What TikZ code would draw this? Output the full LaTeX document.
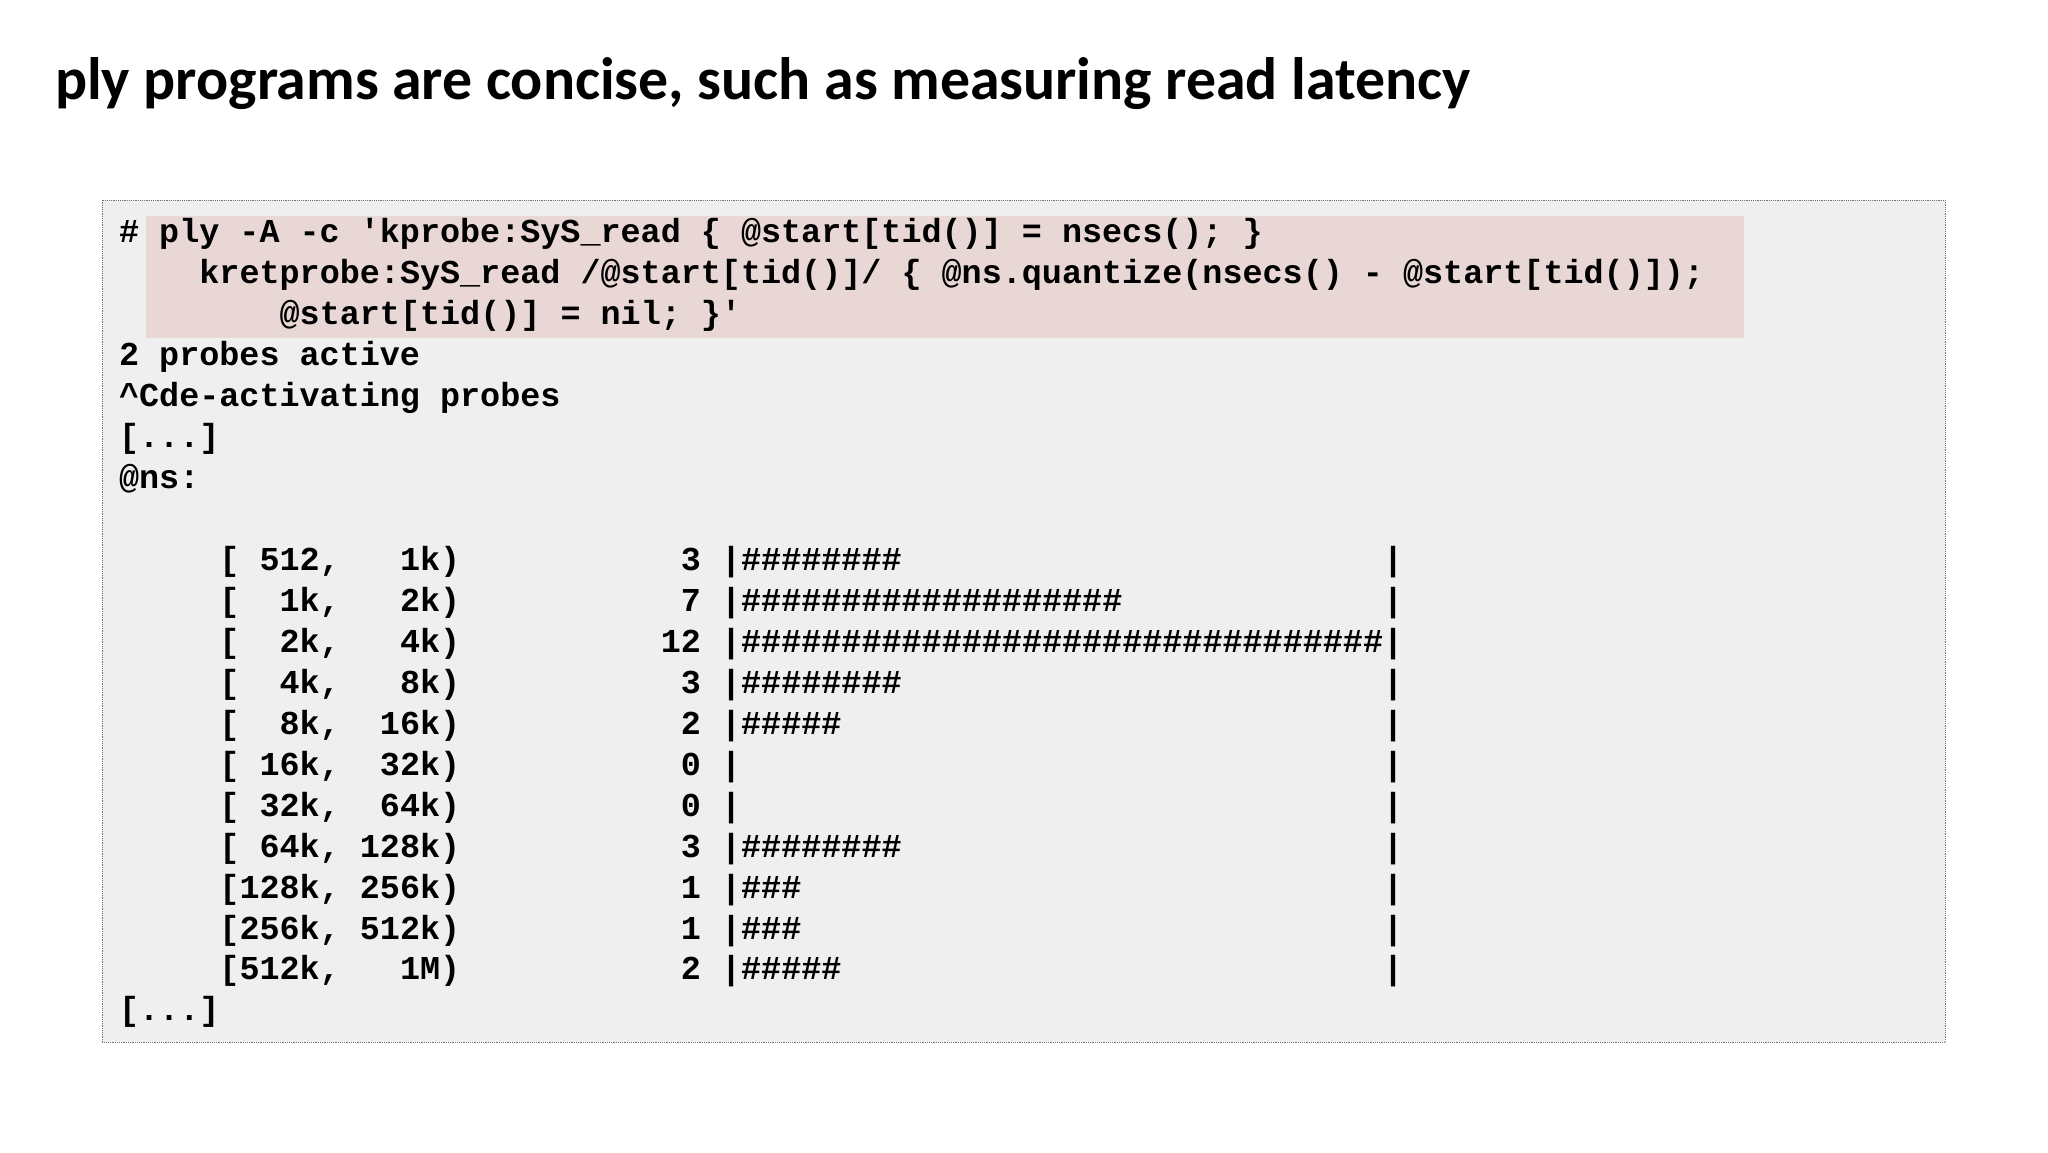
\documentclass[tikz,border=0pt]{standalone}
\usepackage{fontspec}
\setmainfont{Carlito}
\setmonofont{Liberation Mono}
\definecolor{hl}{RGB}{232,215,212}
\definecolor{bx}{RGB}{239,239,239}
\tikzset{code/.style={anchor=base west,inner sep=0pt,font=\ttfamily\bfseries\fontsize{25.6}{26}\selectfont}}
\newcommand\qq{\textquotesingle}
\begin{document}
\begin{tikzpicture}[x=1pt,y=-1pt]
\useasboundingbox (0,0) rectangle (1568,882.7);
\fill[white] (0,0) rectangle (1568,882.7);
\node[anchor=base west,inner sep=0pt,font=\bfseries\fontsize{45.8}{48}\selectfont] (title) at (42,76) {ply programs are concise, such as measuring read latency};
\draw[densely dotted,black!55,fill=bx] (78,153) rectangle (1489,798);
\fill[hl] (112,165) rectangle (1335,259);
\foreach \i/\t in {
0/{\#~ply~-A~-c~\qq kprobe:SyS\_read~\{~@start[tid()]~=~nsecs();~\}},
1/{~~~~kretprobe:SyS\_read~/@start[tid()]/~\{~@ns.quantize(nsecs()~-~@start[tid()]);},
2/{~~~~~~~~@start[tid()]~=~nil;~\}\qq},
3/{2~probes~active},
4/{\textasciicircum Cde-activating~probes},
5/{[...]},
6/{@ns:},
8/{~~~~~[~512,~~~1k)~~~~~~~~~~~3~|\#\#\#\#\#\#\#\#~~~~~~~~~~~~~~~~~~~~~~~~|},
9/{~~~~~[~~1k,~~~2k)~~~~~~~~~~~7~|\#\#\#\#\#\#\#\#\#\#\#\#\#\#\#\#\#\#\#~~~~~~~~~~~~~|},
10/{~~~~~[~~2k,~~~4k)~~~~~~~~~~12~|\#\#\#\#\#\#\#\#\#\#\#\#\#\#\#\#\#\#\#\#\#\#\#\#\#\#\#\#\#\#\#\#|},
11/{~~~~~[~~4k,~~~8k)~~~~~~~~~~~3~|\#\#\#\#\#\#\#\#~~~~~~~~~~~~~~~~~~~~~~~~|},
12/{~~~~~[~~8k,~~16k)~~~~~~~~~~~2~|\#\#\#\#\#~~~~~~~~~~~~~~~~~~~~~~~~~~~|},
13/{~~~~~[~16k,~~32k)~~~~~~~~~~~0~|~~~~~~~~~~~~~~~~~~~~~~~~~~~~~~~~|},
14/{~~~~~[~32k,~~64k)~~~~~~~~~~~0~|~~~~~~~~~~~~~~~~~~~~~~~~~~~~~~~~|},
15/{~~~~~[~64k,~128k)~~~~~~~~~~~3~|\#\#\#\#\#\#\#\#~~~~~~~~~~~~~~~~~~~~~~~~|},
16/{~~~~~[128k,~256k)~~~~~~~~~~~1~|\#\#\#~~~~~~~~~~~~~~~~~~~~~~~~~~~~~|},
17/{~~~~~[256k,~512k)~~~~~~~~~~~1~|\#\#\#~~~~~~~~~~~~~~~~~~~~~~~~~~~~~|},
18/{~~~~~[512k,~~~1M)~~~~~~~~~~~2~|\#\#\#\#\#~~~~~~~~~~~~~~~~~~~~~~~~~~~|},
19/{[...]}}
  \node[code] (l\i) at (91,{186+31.35*\i}) {\t};
\end{tikzpicture}
\end{document}
